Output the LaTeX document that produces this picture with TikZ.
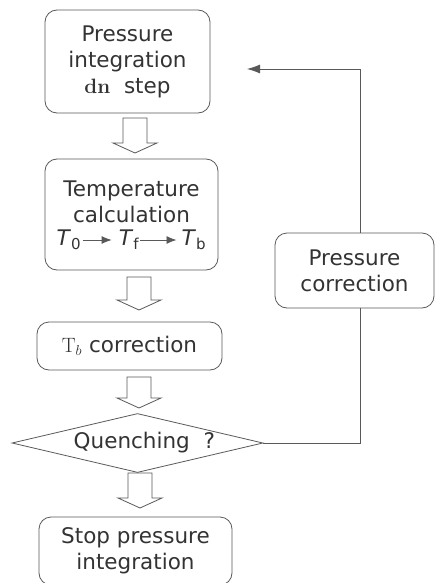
\documentclass[tikz,border=0pt]{standalone}
\usepackage[no-math]{fontspec}
\setmainfont{DejaVu Sans}
\usetikzlibrary{arrows.meta,shapes.geometric}

\begin{document}
\begin{tikzpicture}[x=1pt,y=-1pt,
    font=\fontsize{21.5}{26}\selectfont,
    box/.style={draw=black!65, line width=0.8pt, rounded corners=12pt,
        align=center, inner sep=0pt, text=black!80},
    blockarrow/.style={draw=black!65, line width=0.8pt, line join=miter},
    flow/.style={draw=black!65, line width=0.8pt}]
    \useasboundingbox (0,0) rectangle (436,583);

    % Pressure integration step
    \node[box, minimum width=165pt, minimum height=103pt] (press) at (127.5,61.5)
        {Pressure\\integration\\$\mathbf{dn}$\ \ step};

    % Temperature calculation
    \node[box, minimum width=173pt, minimum height=111pt] (temp) at (131.5,214.5)
        {Temperature\\calculation\\\mbox{}};
    \node[text=black!80, inner sep=1pt] (t0) at (69,240) {\textit{T}\textsubscript{0}};
    \node[text=black!80, inner sep=1pt] (tf) at (129,240) {\textit{T}\textsubscript{f}};
    \node[text=black!80, inner sep=1pt] (tb) at (194,240) {\textit{T}\textsubscript{b}};
    \draw[flow, -{Latex[length=10pt,width=8pt]}, shorten >=6pt] (t0) -- (tf);
    \draw[flow, -{Latex[length=10pt,width=8pt]}, shorten >=4pt] (tf) -- (tb);

    % Tb correction
    \node[box, minimum width=185pt, minimum height=48pt] (tbcorr) at (129.5,346)
        {$\mathrm{T}_b$ correction};

    % Quenching test
    \node[draw=black!65, line width=0.8pt, diamond, aspect=4.25, inner sep=0pt,
        minimum width=251pt, minimum height=59pt, text=black!80] (quench) at (137.5,443)
        {\ \ Quenching\ \ ?};

    % Stop
    \node[box, minimum width=193pt, minimum height=68pt] (stop) at (135.5,551)
        {Stop pressure\\integration};

    % Pressure correction
    \node[box, minimum width=159pt, minimum height=75pt] (pcorr) at (354.5,270.5)
        {Pressure\\correction};

    % Hollow arrows between the steps
    \foreach \cx/\ty/\by in {135/118/153, 139/277/310, 139/377/408, 140/473/508}
        \draw[blockarrow] ({\cx-12},\ty) -- ({\cx+12},\ty) -- ({\cx+12},{\by-10})
            -- ({\cx+22},{\by-10}) -- (\cx,\by) -- ({\cx-22},{\by-10})
            -- ({\cx-12},{\by-10}) -- cycle;

    % Feedback loop
    \coordinate (ret) at (247,69);
    \draw[flow] (quench.east) -| ([xshift=5.5pt]pcorr.south);
    \draw[flow, -{Latex[length=13pt,width=9pt]}] ([xshift=5.5pt]pcorr.north) |- (ret);
\end{tikzpicture}
\end{document}
